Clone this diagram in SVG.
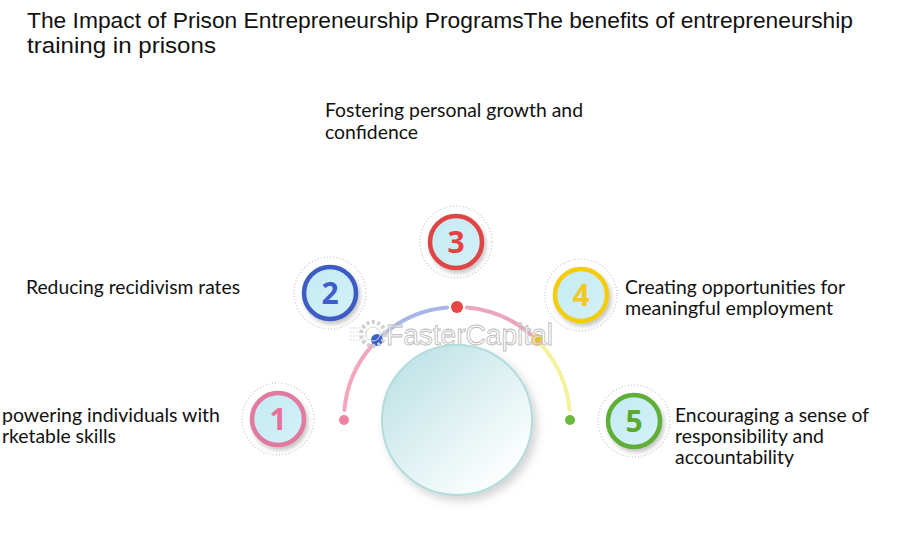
<svg xmlns="http://www.w3.org/2000/svg" width="912" height="548" viewBox="0 0 912 548">
  <style>
    .title { font-family: "Liberation Sans", Arial, sans-serif; font-size: 22.5px; fill: #111; }
    .label { font-family: Lato, "Liberation Sans", sans-serif; font-size: 19px; fill: #111; }
    .num { font-family: "Open Sans", "Liberation Sans", sans-serif; font-size: 30px; font-weight: bold; text-anchor: middle; }
    .dotring { fill: none; stroke: #c4c4c4; stroke-width: 1.2; stroke-dasharray: 1 2.2; }
    .disc { fill: url(#discFill); stroke-width: 4.5; filter: url(#shadow); }
    .arc { fill: none; stroke-width: 4; stroke-linecap: round; }
    .wm { font-family: "Liberation Sans", Arial, sans-serif; font-size: 29px; fill: #ffffff; fill-opacity: 0.6; stroke: #bdbdbd; stroke-width: 0.9; }
  </style>
  <defs>
    <linearGradient id="discFill" x1="0" y1="0" x2="1" y2="1">
      <stop offset="0" stop-color="#c4eaf4"/>
      <stop offset="1" stop-color="#d4f1f7"/>
    </linearGradient>
    <linearGradient id="hubFill" x1="0.15" y1="0.1" x2="0.85" y2="0.9">
      <stop offset="0" stop-color="#c0e3e6"/>
      <stop offset="0.55" stop-color="#e3f3f4"/>
      <stop offset="1" stop-color="#ffffff"/>
    </linearGradient>
    <filter id="shadow" x="-40%" y="-40%" width="180%" height="180%">
      <feDropShadow dx="2" dy="3" stdDeviation="2" flood-color="#555" flood-opacity="0.35"/>
    </filter>
    <filter id="hubShadow" x="-30%" y="-30%" width="160%" height="160%">
      <feDropShadow dx="4" dy="5" stdDeviation="4" flood-color="#666" flood-opacity="0.28"/>
    </filter>
  </defs>
  <rect width="912" height="548" fill="#ffffff"/>

  <g id="title">
    <text class="title" x="27" y="28" textLength="826" lengthAdjust="spacingAndGlyphs">The Impact of Prison Entrepreneurship ProgramsThe benefits of entrepreneurship</text>
    <text class="title" x="27" y="53" textLength="189" lengthAdjust="spacingAndGlyphs">training in prisons</text>
  </g>

  <g id="connectors">
    <path class="arc" stroke="#f2a7bd" d="M344.4 410.1 A113 113 0 0 1 371.7 345.9"/>
    <path class="arc" stroke="#a6b7e6" d="M382.9 334.7 A113 113 0 0 1 447.1 307.4"/>
    <path class="arc" stroke="#eba6bc" d="M466.9 307.4 A113 113 0 0 1 531.1 334.7"/>
    <path class="arc" stroke="#f5f29c" d="M542.3 345.9 A113 113 0 0 1 569.6 410.1"/>
    <circle cx="344" cy="420" r="5" fill="#ef82a3"/>
    <circle cx="377" cy="340" r="6" fill="#3d5fcb"/>
    <circle cx="457" cy="307" r="6" fill="#e84545"/>
    <circle cx="537" cy="340" r="6" fill="#f3c21a"/>
    <circle cx="570" cy="420" r="5" fill="#6cbb3c"/>
  </g>

  <g id="watermark">
    <circle cx="373" cy="334" r="12" fill="none" stroke="#cfcfcf" stroke-width="4" stroke-dasharray="3 2.5"/>
    <circle cx="373" cy="334" r="7" fill="none" stroke="#d5d5d5" stroke-width="1"/>
    <g stroke="#d0d0d0" stroke-width="1" stroke-dasharray="1.5 1.5">
      <line x1="350" y1="328" x2="368" y2="328"/>
      <line x1="350" y1="332" x2="368" y2="332"/>
      <line x1="350" y1="336" x2="368" y2="336"/>
      <line x1="350" y1="340" x2="368" y2="340"/>
    </g>
    <text class="wm" x="386" y="345" textLength="167" lengthAdjust="spacingAndGlyphs">FasterCapital</text>
  </g>

  <g id="hub">
    <circle cx="457" cy="420" r="75" fill="url(#hubFill)" stroke="#b3dcdd" stroke-width="2" filter="url(#hubShadow)"/>
  </g>

  <g id="node1">
    <circle class="dotring" cx="278" cy="419" r="36"/>
    <circle class="disc" cx="278" cy="419" r="26" stroke="#e2799f"/>
    <text class="num" x="278" y="430" fill="#e8709a">1</text>
    <text class="label" x="2" y="422" textLength="218" lengthAdjust="spacingAndGlyphs">powering individuals with</text>
    <text class="label" x="2" y="443" textLength="114" lengthAdjust="spacingAndGlyphs">rketable skills</text>
  </g>

  <g id="node2">
    <circle class="dotring" cx="330" cy="293" r="36"/>
    <circle class="disc" cx="330" cy="293" r="26" stroke="#3d5cc4"/>
    <text class="num" x="330" y="304" fill="#3d5fcb">2</text>
    <text class="label" x="26" y="294" textLength="214" lengthAdjust="spacingAndGlyphs">Reducing recidivism rates</text>
  </g>

  <g id="node3">
    <circle class="dotring" cx="456" cy="242" r="36"/>
    <circle class="disc" cx="456" cy="242" r="26" stroke="#e04444"/>
    <text class="num" x="456" y="253" fill="#e84040">3</text>
    <text class="label" x="325" y="117" textLength="258" lengthAdjust="spacingAndGlyphs">Fostering personal growth and</text>
    <text class="label" x="325" y="139" textLength="93" lengthAdjust="spacingAndGlyphs">confidence</text>
  </g>

  <g id="node4">
    <circle class="dotring" cx="581" cy="295" r="36"/>
    <circle class="disc" cx="581" cy="295" r="26" stroke="#f2cc10"/>
    <text class="num" x="581" y="306" fill="#f3c81e">4</text>
    <text class="label" x="625" y="294" textLength="220" lengthAdjust="spacingAndGlyphs">Creating opportunities for</text>
    <text class="label" x="625" y="315" textLength="208" lengthAdjust="spacingAndGlyphs">meaningful employment</text>
  </g>

  <g id="node5">
    <circle class="dotring" cx="634" cy="421" r="36"/>
    <circle class="disc" cx="634" cy="421" r="26" stroke="#5eae34"/>
    <text class="num" x="634" y="432" fill="#5aaa30">5</text>
    <text class="label" x="675" y="422" textLength="194" lengthAdjust="spacingAndGlyphs">Encouraging a sense of</text>
    <text class="label" x="675" y="443" textLength="149" lengthAdjust="spacingAndGlyphs">responsibility and</text>
    <text class="label" x="675" y="464" textLength="119" lengthAdjust="spacingAndGlyphs">accountability</text>
  </g>
</svg>
